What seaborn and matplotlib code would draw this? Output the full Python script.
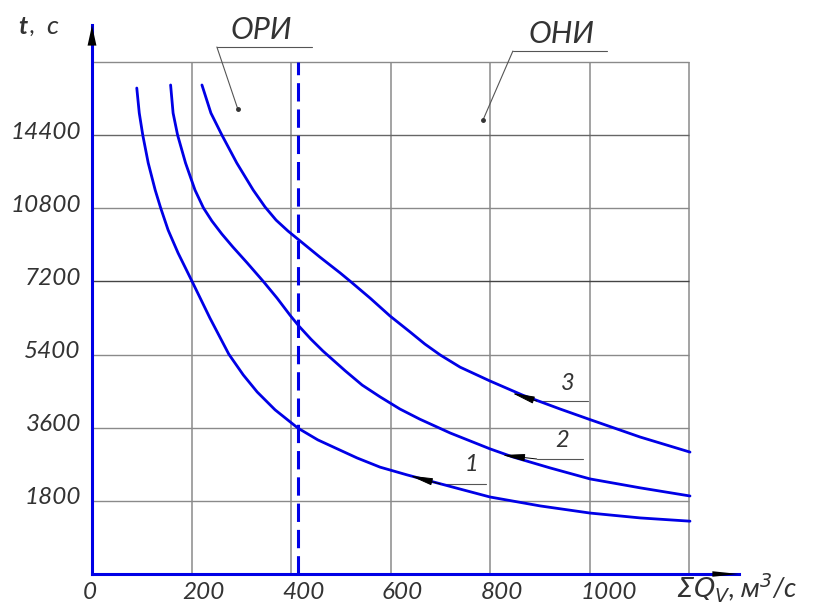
import numpy as np
import pandas as pd
import matplotlib
matplotlib.use("Agg")
import matplotlib.pyplot as plt
import matplotlib.transforms as mtransforms
import seaborn as sns

# Curve 1..3: total air flow (m3/s) vs time (s)
Q1 = [90, 95, 102, 113, 127, 138, 153, 173, 201, 237, 275, 304, 332, 368,
      414, 454, 493, 533, 579, 633, 740, 800, 901, 1001, 1102, 1202]
T1 = [16720, 15490, 14410, 13030, 11700, 10820, 9730, 8600, 7210, 6300,
      5410, 4900, 4480, 4040, 3590, 3300, 3080, 2855, 2630, 2440, 2090,
      1895, 1675, 1500, 1380, 1300]

Q2 = [158, 163, 172, 188, 207, 224, 241, 261, 283, 312, 344, 372, 398, 416,
      440, 464, 509, 543, 579, 619, 659, 720, 800, 846, 921, 1001, 1102, 1202]
T2 = [16870, 15490, 14410, 13030, 11700, 10820, 10175, 9535, 8900, 8110,
      7210, 6790, 6370, 6100, 5780, 5490, 5000, 4650, 4360, 4060, 3810,
      3470, 3080, 2880, 2610, 2340, 2120, 1920]

Q3 = [221, 239, 261, 291, 324, 348, 370, 394, 416, 458, 499, 519, 559, 599,
      639, 669, 700, 740, 800, 866, 941, 1001, 1102, 1202]
T3 = [16870, 15490, 14410, 13030, 11700, 10860, 10220, 9680, 9240, 8400,
      7615, 7210, 6790, 6350, 5960, 5660, 5390, 5090, 4750, 4400, 4060,
      3800, 3370, 3000]

CURVE_NAMES = ["1", "2", "3"]

# boundary between the two zones (ОРИ / ОНИ)
Q_BOUNDARY = 415

X_TICKS = [0, 200, 400, 600, 800, 1000]
X_GRID = [200, 400, 600, 800, 1000, 1200]
Y_TICKS = [1800, 3600, 5400, 7200, 10800, 14400]
Y_GRID = [1800, 3600, 5400, 7200, 10800, 14400, 18000]

# the time axis is drawn with equal spacing between uneven values
T_KNOTS = [0, 1800, 3600, 5400, 7200, 10800, 14400, 18000, 21600]
IDX = list(range(len(T_KNOTS)))

BLUE = "#0000e6"
TXT = "#333333"


def fwd(v):
    return np.interp(v, T_KNOTS, IDX)


def inv(u):
    return np.interp(u, IDX, T_KNOTS)


sns.set_style("white")
plt.rcParams['font.family'] = ['Lato', 'DejaVu Sans']
plt.rcParams['font.style'] = 'italic'
plt.rcParams['mathtext.fontset'] = 'dejavusans'

W, H = 822, 608
fig = plt.figure(figsize=(W / 100, H / 100), dpi=100)
px_q = 0.4975      # pixels per m3/s
px_t = 73.14       # pixels per grid step on the time axis
ax = fig.add_axes([92 / W, (H - 574) / H, 1300 * px_q / W, 7.5 * px_t / H])

ax.set_yscale('function', functions=(fwd, inv))

df = pd.concat([
    pd.DataFrame({"Q": q, "t": t, "curve": n})
    for q, t, n in zip([Q1, Q2, Q3], [T1, T2, T3], CURVE_NAMES)
], ignore_index=True)

sns.lineplot(data=df, x="Q", y="t", hue="curve", palette=[BLUE] * 3,
             sort=False, estimator=None, lw=2.0, legend=False, ax=ax,
             zorder=3)
for ln in ax.get_lines():
    ln.set_solid_joinstyle("round")

# grid only inside the drawing frame
ax.vlines(X_GRID, 0, 18000, colors="#8a8a8a", lw=1.1, zorder=1)
ax.hlines(Y_GRID, 0, 1200,
          colors=["#8a8a8a", "#8a8a8a", "#8a8a8a", "#444444", "#8a8a8a",
                  "#666666", "#8a8a8a"],
          lw=1.0, zorder=1)
ax.vlines(Q_BOUNDARY, 0, 18000, colors=BLUE, lw=2.2,
          linestyles=(0, (6, 2.6)), zorder=2)

ax.set_xlim(0, 1300)
ax.set_ylim(0, 19800)

for s in ["top", "right"]:
    ax.spines[s].set_visible(False)
for s in ["left", "bottom"]:
    ax.spines[s].set_color(BLUE)
    ax.spines[s].set_linewidth(2.2)

ax.set_xticks(X_TICKS, [str(v) for v in X_TICKS])
ax.set_yticks(Y_TICKS, [str(v) for v in Y_TICKS])
ax.minorticks_off()
ax.tick_params(length=0, labelsize=17.5, labelcolor=TXT)
ax.tick_params(axis="x", pad=6)
ax.tick_params(axis="y", pad=8)
ax.set_xlabel("")
ax.set_ylabel("")

dx = mtransforms.ScaledTranslation(-9 / 100, 0, fig.dpi_scale_trans)
for lab in ax.get_xticklabels():
    lab.set_ha("left")
    lab.set_transform(lab.get_transform() + dx)
dy = mtransforms.ScaledTranslation(0, 5 / 100, fig.dpi_scale_trans)
for lab in ax.get_yticklabels():
    lab.set_transform(lab.get_transform() + dy)

# axis arrow heads
ax.annotate("", xy=(0, 1), xycoords="axes fraction", xytext=(0, 0.95),
            arrowprops=dict(arrowstyle="-|>,head_length=1.45,head_width=0.32",
                            color="black", lw=0, shrinkA=0, shrinkB=0,
                            mutation_scale=10), annotation_clip=False)
ax.annotate("", xy=(1, 0), xycoords="axes fraction", xytext=(0.95, 0),
            arrowprops=dict(arrowstyle="-|>,head_length=1.9,head_width=0.2",
                            color="black", lw=0, shrinkA=0, shrinkB=0,
                            mutation_scale=10), annotation_clip=False)

# axis titles
fig.text(18 / W, 1 - 34 / H, "t", fontsize=18, weight="bold", color=TXT)
fig.text(29 / W, 1 - 34 / H, ",", fontsize=17, color=TXT)
fig.text(46 / W, 1 - 34 / H, "с", fontsize=19, color=TXT)
fig.text(676 / W, 1 - 598 / H, r"$\Sigma Q_V$, м$^3$/с", fontsize=19.5,
         color=TXT)


# zone callouts
def callout(label, tx, ty, x0, x1, yl, tip):
    ax.text(tx, ty, label, fontsize=22, ha="center", va="bottom", color=TXT)
    ax.plot([x0, x1], [yl, yl], color="#555555", lw=0.8, clip_on=False)
    ax.plot([x0, tip[0]], [yl, tip[1]], color="#555555", lw=0.8,
            clip_on=False)
    ax.plot([tip[0]], [tip[1]], marker="o", ms=2.5, color="#333333",
            clip_on=False)


callout("ОРИ", 340, 18880, 251, 442, 18740, (293, 15690))
callout("ОНИ", 943, 18700, 846, 1035, 18540, (786, 15150))


# curve numbers with leader arrows
def number(label, tx, ty, x0, x1, yl, tip):
    ax.text(tx, ty, label, fontsize=17, ha="center", va="bottom", color=TXT)
    ax.plot([x0, x1], [yl, yl], color="#555555", lw=0.8)
    ax.annotate("", xy=tip, xytext=(x0, yl),
                arrowprops=dict(arrowstyle="-|>,head_length=1.4,head_width=0.22",
                                color="black", lw=0.7, shrinkA=0, shrinkB=0,
                                mutation_scale=10))


number("1", 762, 2440, 700, 792, 2215, (639, 2420))
number("2", 945, 3030, 894, 987, 2830, (824, 2929))
number("3", 957, 4430, 894, 997, 4257, (844, 4455))

fig.savefig("out.png", dpi=100)
plt.close(fig)
